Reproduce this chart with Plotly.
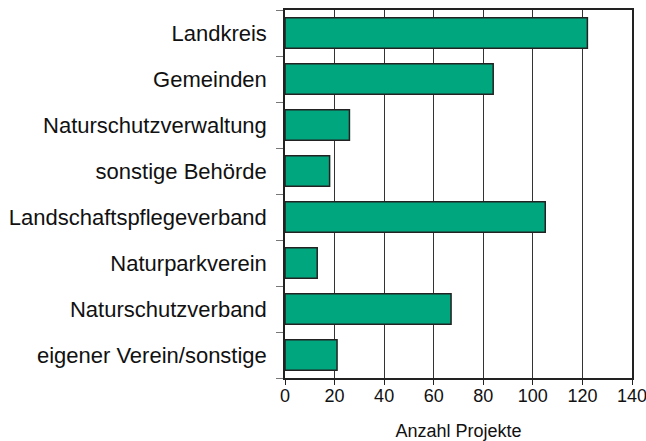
import plotly.graph_objects as go

categories = ["Landkreis", "Gemeinden", "Naturschutzverwaltung", "sonstige Behörde",
              "Landschaftspflegeverband", "Naturparkverein", "Naturschutzverband",
              "eigener Verein/sonstige"]
values = [122, 84, 26, 18, 105, 13, 67, 21]
x_ticks = [0, 20, 40, 60, 80, 100, 120, 140]
x_title = "Anzahl Projekte"

font = "Liberation Sans, Arial, sans-serif"

fig = go.Figure(go.Bar(
    y=categories, x=values, orientation="h",
    marker=dict(color="#00a67e", line=dict(color="#222222", width=1.5)),
))

fig.update_layout(
    width=646, height=441,
    margin=dict(l=285, r=14, t=10, b=63),
    plot_bgcolor="white", paper_bgcolor="white",
    bargap=0.34, showlegend=False,
    font=dict(family=font, color="#111111"),
)
fig.update_xaxes(
    range=[0, 140], tickvals=x_ticks, ticks="outside", ticklen=5, tickcolor="#222222",
    showgrid=True, gridcolor="#333333", gridwidth=1,
    showline=True, linecolor="#222222", linewidth=1.5, mirror=True,
    tickfont=dict(size=18, family=font), zeroline=False, automargin=False,
    ticklabeloverflow="allow", ticklabelstandoff=-4,
    title=dict(text=x_title, font=dict(size=18, family=font), standoff=19),
)
fig.update_yaxes(
    categoryorder="array", categoryarray=categories[::-1],
    showline=True, linecolor="#222222", linewidth=1.5, mirror=True,
    ticks="outside", ticklen=7, tickcolor="#777777", tickson="boundaries",
    tickfont=dict(size=22, family=font), ticklabelstandoff=12, automargin=False,
    showgrid=False,
)

fig.write_html(
    "out.html",
    config={"displayModeBar": False},
    post_script="document.body.style.margin='0';document.body.style.overflow='hidden';",
)
